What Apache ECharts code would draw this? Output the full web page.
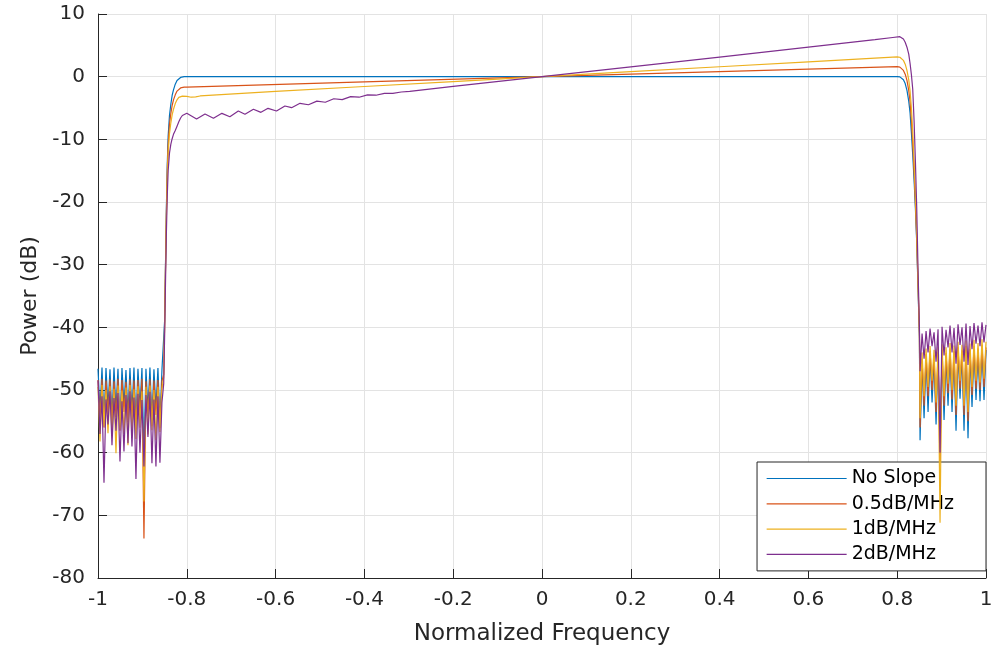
<!DOCTYPE html>
<html>
<head>
<meta charset="utf-8">
<title>Power spectrum with spectral slope</title>
<script src="https://cdn.jsdelivr.net/npm/echarts@6/dist/echarts.min.js"></script>
<style>
  html, body { margin: 0; padding: 0; background: #fff; }
  #chart { width: 991px; height: 648px; }
</style>
</head>
<body>
<div id="chart"></div>
<script>
// Series names (legend order)
const seriesNames = ['No Slope', '0.5dB/MHz', '1dB/MHz', '2dB/MHz'];
const seriesColors = ['#0072BD', '#D95319', '#EDB120', '#7E2F8E'];

// Axis ticks
const xTickLabels = ['-1', '-0.8', '-0.6', '-0.4', '-0.2', '0', '0.2', '0.4', '0.6', '0.8', '1'];
const yTickLabels = ['-80', '-70', '-60', '-50', '-40', '-30', '-20', '-10', '0', '10'];

// Shared frequency grids for the stopbands and band edges
const stopLeftX = [-1, -0.9955, -0.991, -0.9865, -0.982, -0.9775, -0.973, -0.9685, -0.964, -0.9595,
  -0.955, -0.9505, -0.946, -0.9415, -0.937, -0.9325, -0.928, -0.9235, -0.919, -0.9145,
  -0.91, -0.9055, -0.901, -0.8965, -0.892, -0.8875, -0.883, -0.8785, -0.874, -0.8695,
  -0.865, -0.8605, -0.856];
const edgeUpX = [-0.852, -0.850, -0.848, -0.846, -0.844, -0.842, -0.839, -0.836, -0.833, -0.830,
  -0.826, -0.822, -0.818, -0.814, -0.810, -0.806];
const edgeDownX = [0.810, 0.814, 0.818, 0.822, 0.826, 0.829, 0.832, 0.835, 0.838, 0.841,
  0.844, 0.847, 0.850];
const stopRightX = [0.8515, 0.856, 0.8605, 0.865, 0.8695, 0.874, 0.8785, 0.883, 0.8875, 0.892,
  0.8965, 0.901, 0.9055, 0.91, 0.9145, 0.919, 0.9235, 0.928, 0.9325, 0.937,
  0.9415, 0.946, 0.9505, 0.955, 0.9595, 0.964, 0.9685, 0.973, 0.9775, 0.982,
  0.9865, 0.991, 0.9955, 1.0];

// ---- No Slope ----
const noSlopeStopLeft = [-46.6, -53.5, -46.4, -55.0, -46.5, -52.8, -46.7, -54.6, -46.4, -53.2,
  -46.6, -55.8, -46.5, -52.4, -46.8, -54.0, -46.5, -53.6, -46.4, -55.3,
  -46.6, -52.9, -46.5, -60.5, -46.6, -53.1, -46.4, -54.7, -46.7, -53.0,
  -46.5, -55.2, -46.8];
const noSlopeEdgeUp = [-47, -39, -30, -21, -14, -9.5, -6.2, -4.4, -3.0, -2.1, -1.2, -0.6, -0.3, -0.12, -0.04, 0];
const noSlopePassX = [-0.8, -0.4, 0, 0.4, 0.8, 0.806];
const noSlopePass = [0, 0, 0, 0, 0, -0.03];
const noSlopeEdgeDown = [-0.1, -0.5, -1.1, -2.2, -3.9, -5.8, -9.0, -12.5, -16.5, -21, -26.5, -34, -41.5];
const noSlopeStopRight = [-58.0, -45.5, -54.5, -44.8, -53.5, -44.2, -52.0, -45.0, -55.5, -44.5,
  -60.0, -44.0, -54.8, -44.6, -52.5, -43.8, -53.5, -44.3, -56.5, -43.6,
  -51.4, -44.2, -56.5, -43.5, -57.7, -44.0, -52.7, -43.4, -51.6, -43.9,
  -51.8, -43.2, -51.6, -43.6];

// ---- 0.5 dB/MHz ----
const halfStopLeft = [-48.4, -54.8, -48.2, -56.0, -48.5, -53.9, -48.3, -55.6, -48.6, -54.3,
  -48.2, -56.5, -48.4, -53.5, -48.7, -55.1, -48.3, -54.6, -48.5, -56.2,
  -48.4, -54.0, -48.2, -73.7, -48.6, -54.2, -48.3, -55.8, -48.5, -54.0,
  -48.4, -56.1, -48.6];
const halfEdgeUp = [-47.5, -39.5, -30.5, -21.8, -15.0, -10.8, -7.6, -5.9, -4.6, -3.7, -2.9, -2.3, -2.0, -1.8, -1.72, -1.68];
const halfPassX = [-0.8, -0.4, 0, 0.4, 0.8, 0.806];
const halfPass = [-1.66, -0.84, 0, 0.81, 1.6, 1.52];
const halfEdgeDown = [1.35, 1.0, 0.4, -0.6, -2.2, -4.0, -7.0, -10.8, -15.2, -20.2, -26.0, -33.5, -41];
const halfStopRight = [-56.0, -45.0, -52.5, -44.3, -51.0, -43.8, -50.0, -44.5, -53.5, -44.0,
  -63.0, -43.6, -52.5, -44.1, -50.5, -43.4, -51.5, -43.8, -54.0, -43.2,
  -49.8, -43.7, -54.0, -43.0, -55.0, -43.5, -50.8, -43.0, -49.8, -43.4,
  -50.0, -42.8, -49.5, -43.2];

// ---- 1 dB/MHz ----
const oneStopLeft = [-49.5, -58.2, -49.2, -55.8, -50.0, -56.9, -49.4, -57.3, -49.8, -60.1,
  -49.3, -56.2, -50.1, -57.0, -49.6, -58.8, -49.2, -56.5, -49.9, -57.8,
  -49.4, -56.0, -50.2, -67.8, -49.5, -57.1, -49.3, -56.4, -50.0, -58.0,
  -49.5, -56.7, -49.8];
const oneEdgeUp = [-48, -40, -31, -22.6, -16.2, -12.2, -9.1, -7.4, -6.1, -5.2, -4.3, -3.7, -3.3, -3.15, -3.1, -3.15];
const onePassX = [-0.8, -0.79, -0.78, -0.77, -0.6, -0.4, -0.2, 0, 0.2, 0.4, 0.6, 0.8, 0.806];
const onePass = [-3.15, -3.28, -3.22, -3.08, -2.36, -1.57, -0.79, 0, 0.79, 1.58, 2.37, 3.15, 3.1];
const oneEdgeDown = [2.95, 2.6, 2.0, 1.0, -0.5, -2.3, -5.0, -8.8, -13.5, -19.0, -25.2, -33, -40.5];
const oneStopRight = [-54.5, -44.0, -51.0, -43.4, -49.5, -43.0, -48.5, -43.6, -52.0, -43.1,
  -71.2, -42.7, -51.0, -43.2, -49.0, -42.5, -50.0, -42.9, -52.5, -42.3,
  -48.5, -42.8, -52.5, -42.1, -53.5, -42.6, -49.5, -42.0, -48.5, -42.5,
  -48.8, -41.9, -48.2, -42.3];

// ---- 2 dB/MHz ----
const twoStopLeft = [-48.5, -57.0, -51.0, -64.8, -51.5, -55.5, -50.2, -58.8, -51.3, -56.5,
  -50.5, -61.4, -51.8, -59.8, -50.8, -58.5, -50.2, -59.0, -51.2, -64.2,
  -50.6, -60.0, -51.6, -62.2, -50.8, -57.5, -50.3, -61.7, -51.5, -62.2,
  -51.0, -61.6, -52.0];
const twoEdgeUp = [-49, -41.5, -33, -25, -19, -15, -12.2, -10.8, -9.9, -9.2, -8.6, -7.9, -7.2, -6.6, -6.2, -5.95];
const twoPassX = [-0.8, -0.778, -0.759, -0.74, -0.721, -0.703, -0.684, -0.669, -0.65, -0.633,
  -0.617, -0.598, -0.579, -0.564, -0.545, -0.526, -0.507, -0.488, -0.469, -0.45,
  -0.431, -0.412, -0.393, -0.374, -0.355, -0.336, -0.317, -0.298, -0.2, 0,
  0.2, 0.4, 0.6, 0.75, 0.79, 0.806];
const twoPass = [-5.85, -6.76, -5.96, -6.65, -5.85, -6.40, -5.48, -6.00, -5.20, -5.69,
  -5.05, -5.48, -4.68, -4.95, -4.25, -4.48, -3.90, -4.08, -3.52, -3.66,
  -3.18, -3.28, -2.90, -2.96, -2.66, -2.68, -2.45, -2.36, -1.56, 0,
  1.56, 3.12, 4.70, 5.90, 6.25, 6.38];
const twoEdgeDown = [6.3, 6.0, 5.5, 4.7, 3.6, 2.1, 0.3, -2.0, -7.0, -13.5, -21.0, -31.0, -39.8];
const twoStopRight = [-47.0, -41.0, -45.0, -40.6, -44.0, -40.2, -43.0, -40.8, -45.5, -40.3,
  -60.0, -39.9, -44.5, -40.4, -43.2, -39.7, -44.0, -40.1, -45.8, -39.5,
  -42.8, -40.0, -45.5, -39.4, -46.0, -39.8, -43.5, -39.3, -42.6, -39.7,
  -43.0, -39.2, -42.4, -39.6];

// Join the x grids with each series' values into [x, y] pairs
function pairs(xs, ys) { return xs.map((x, i) => [x, ys[i]]); }
function curve(stopL, edgeUp, passX, pass, edgeDown, stopR) {
  return [].concat(
    pairs(stopLeftX, stopL),
    pairs(edgeUpX, edgeUp),
    pairs(passX, pass),
    pairs(edgeDownX, edgeDown),
    pairs(stopRightX, stopR)
  );
}

const curves = [
  curve(noSlopeStopLeft, noSlopeEdgeUp, noSlopePassX, noSlopePass, noSlopeEdgeDown, noSlopeStopRight),
  curve(halfStopLeft, halfEdgeUp, halfPassX, halfPass, halfEdgeDown, halfStopRight),
  curve(oneStopLeft, oneEdgeUp, onePassX, onePass, oneEdgeDown, oneStopRight),
  curve(twoStopLeft, twoEdgeUp, twoPassX, twoPass, twoEdgeDown, twoStopRight)
];

const FONT = '"DejaVu Sans", "Liberation Sans", Arial, sans-serif';
const AXIS_COLOR = '#262626';
const GRID_COLOR = '#e3e3e3';

const chart = echarts.init(document.getElementById('chart'), null, { renderer: 'canvas' });

chart.setOption({
  animation: false,
  backgroundColor: '#ffffff',
  textStyle: { fontFamily: FONT },
  grid: { left: 98, right: 5, top: 14, bottom: 70, containLabel: false, outerBoundsMode: 'none' },
  xAxis: {
    type: 'value',
    min: -1, max: 1, interval: 0.2,
    name: 'Normalized Frequency',
    nameLocation: 'middle',
    nameGap: 45,
    nameTextStyle: { fontSize: 23, color: AXIS_COLOR, fontFamily: FONT },
    axisLine: { show: true, onZero: false, lineStyle: { color: AXIS_COLOR, width: 1 } },
    axisTick: { show: true, inside: true, length: 9, lineStyle: { color: AXIS_COLOR } },
    axisLabel: {
      fontSize: 20, color: AXIS_COLOR, margin: 12, fontFamily: FONT,
      formatter: v => xTickLabels[Math.round((v + 1) / 0.2)]
    },
    splitLine: { show: true, lineStyle: { color: GRID_COLOR, width: 1 } }
  },
  yAxis: {
    type: 'value',
    min: -80, max: 10, interval: 10,
    name: 'Power (dB)',
    nameLocation: 'middle',
    nameGap: 57,
    nameTextStyle: { fontSize: 22, color: AXIS_COLOR, fontFamily: FONT },
    axisLine: { show: true, onZero: false, lineStyle: { color: AXIS_COLOR, width: 1 } },
    axisTick: { show: true, inside: true, length: 9, lineStyle: { color: AXIS_COLOR } },
    axisLabel: {
      fontSize: 20, color: AXIS_COLOR, margin: 13, fontFamily: FONT,
      formatter: v => yTickLabels[Math.round((v + 80) / 10)]
    },
    splitLine: { show: true, lineStyle: { color: GRID_COLOR, width: 1 } }
  },
  legend: {
    data: seriesNames,
    orient: 'vertical',
    right: 5,
    top: 462,
    itemWidth: 80,
    itemHeight: 14,
    itemGap: 6.3,
    padding: [7, 32, 7, 9],
    backgroundColor: '#ffffff',
    borderColor: AXIS_COLOR,
    borderWidth: 1,
    borderRadius: 0,
    itemStyle: { opacity: 0 },
    lineStyle: { width: 1.2 },
    textStyle: { fontSize: 19, color: '#000000', fontFamily: FONT }
  },
  series: seriesNames.map((name, i) => ({
    name: name,
    type: 'line',
    data: curves[i],
    showSymbol: false,
    symbol: 'none',
    smooth: false,
    color: seriesColors[i],
    lineStyle: { color: seriesColors[i], width: 1.2 },
    z: 2 + i
  }))
});
</script>
</body>
</html>
